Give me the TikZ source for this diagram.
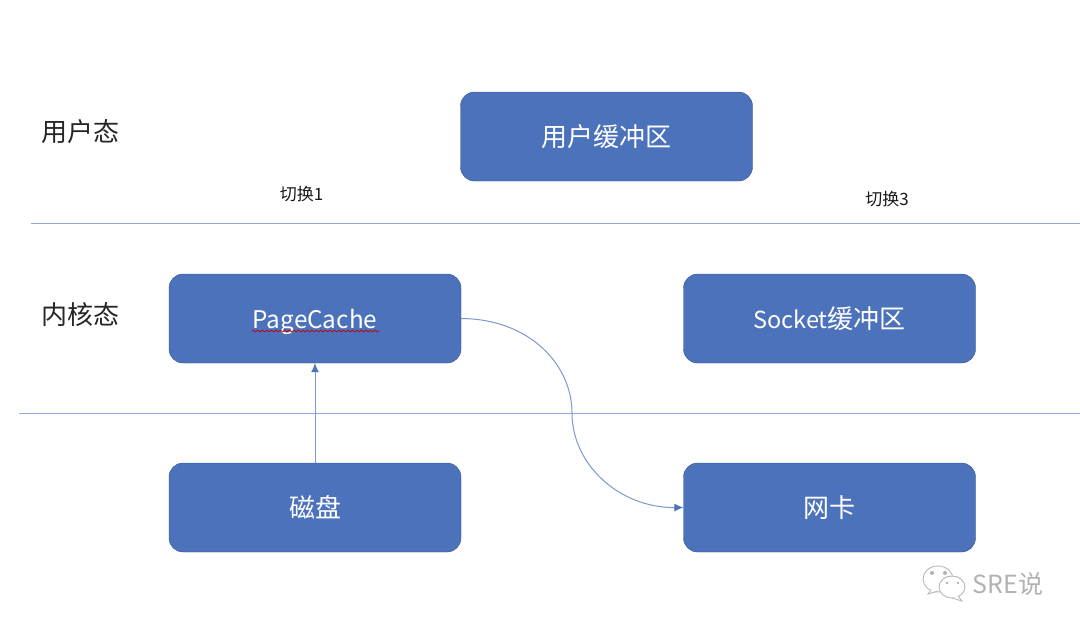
\documentclass[tikz,border=0pt]{standalone}
\usepackage{fontspec}
\setmainfont{Noto Sans CJK SC}
\usepackage{tikz}
\usetikzlibrary{decorations.pathmorphing, arrows.meta}
\definecolor{boxfill}{HTML}{4C72BB}
\definecolor{boxline}{HTML}{34558F}
\definecolor{linkline}{HTML}{7C98D2}
\definecolor{ruleline}{HTML}{93A8DA}
\tikzset{>={Latex[length=9, width=8, color=boxfill]}}
\newcommand*{\latn}[1]{{\fontsize{23.5}{24}\selectfont #1}}
\tikzset{
    bufbox/.style={draw=boxline, fill=boxfill, rounded corners=14, minimum width=292, minimum height=89, inner sep=0, text=white, text height=23, text depth=3, font=\fontsize{26}{26}\selectfont},
    statelabel/.style={inner sep=0, text=black!85, font=\fontsize{26}{26}\selectfont},
    switchlabel/.style={inner sep=0, text=black!90, font=\fontsize{17}{17}\selectfont},
    marklabel/.style={inner sep=0, text=black!30, font=\fontsize{25}{25}\selectfont},
    link/.style={linkline, line width=1},
    bubble/.style={black!28, fill=white, line width=.9},
}
\begin{document}
\begin{tikzpicture}[x=1pt, y=-1pt]
    \useasboundingbox(0, 0)rectangle(1080, 632);
    \coordinate(rule1l)at(31, 223);
    \coordinate(rule1r)at(1080, 223);
    \coordinate(rule2l)at(19, 413);
    \coordinate(rule2r)at(1080, 413);
    \draw[ruleline, line width=1](rule1l)--(rule1r);
    \draw[ruleline, line width=1](rule2l)--(rule2r);
    \node[statelabel](user)at(80.5, 132){用户态};
    \node[statelabel](kernel)at(80.5, 315){内核态};
    \node[switchlabel](sw1)at(301.5, 194.5){切换1};
    \node[switchlabel](sw3)at(887, 199.5){切换3};
    \node[bufbox](ubuf)at(606.5, 136.5){用户缓冲区};
    \node[bufbox](page)at(315, 318.5){{\fontsize{24.3}{24}\selectfont PageCache}};
    \node[bufbox](sock)at(829.5, 318.5){\latn{Socket}缓冲区};
    \node[bufbox](disk)at(315, 507.5){磁盘};
    \node[bufbox](nic)at(829.5, 507.5){网卡};
    \draw[->, link](disk)--(page);
    \coordinate(bend)at(572, 413);
    \draw[->, link](page.east)..controls(530, 319)and(572, 365)..(bend)..controls(572, 465)and(620, 508)..(nic.west);
    % spell check squiggle
    \coordinate(sqa)at(252, 331);
    \coordinate(sqb)at(380, 331);
    \draw[red!75!black, line width=.7, decorate, decoration={snake, amplitude=.9, segment length=4.5}](sqa)--(sqb);
    % watermark
    \draw[bubble](938, 579)ellipse[x radius=15, y radius=13];
    \draw[bubble](931, 590)--(928, 594)--(938, 591);
    \draw[bubble](952, 587)ellipse[x radius=13, y radius=11];
    \draw[bubble](958, 596)--(962, 601)--(952, 598);
    \foreach \mx/\my/\mr in {932/573/2, 945/573/2, 947/583/1.4, 958/583/1.4}
        \fill[black!30](\mx, \my)circle[radius=\mr];
    \node[marklabel](mark)at(1008, 584){SRE说};
\end{tikzpicture}
\end{document}
